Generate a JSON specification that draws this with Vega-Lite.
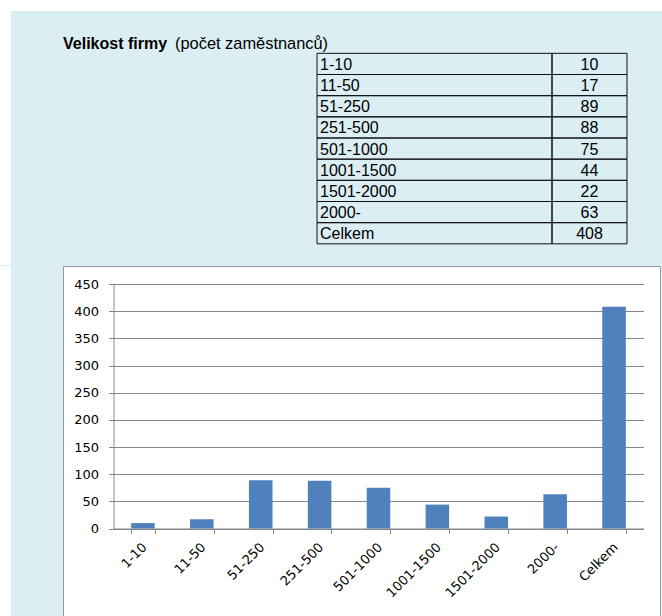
{
  "$schema": "https://vega.github.io/schema/vega-lite/v6.json",
  "background": "#DAEEF3",
  "padding": 0,
  "spacing": 0,
  "bounds": "full",
  "config": {"view": {"stroke": null}},
  "datasets": {
    "firmy": [
      {"velikost": "1-10", "pocet": 10},
      {"velikost": "11-50", "pocet": 17},
      {"velikost": "51-250", "pocet": 89},
      {"velikost": "251-500", "pocet": 88},
      {"velikost": "501-1000", "pocet": 75},
      {"velikost": "1001-1500", "pocet": 44},
      {"velikost": "1501-2000", "pocet": 22},
      {"velikost": "2000-", "pocet": 63},
      {"velikost": "Celkem", "pocet": 408}
    ],
    "nadpis1": [{"t": "Velikost firmy"}],
    "nadpis2": [{"t": "(počet zaměstnanců)"}]
  },
  "vconcat": [
    {
      "width": 662, "height": 11,
      "data": {"values": []},
      "mark": "rect",
      "encoding": {},
      "view": {"fill": "white", "stroke": null}
    },
    {
      "spacing": 52,
      "bounds": "flush",
      "hconcat": [
        {
          "width": 11, "height": 254,
          "data": {"values": []},
          "mark": "rect",
          "encoding": {},
          "view": {"fill": "white", "stroke": null}
        },
        {
          "spacing": 0,
          "bounds": "flush",
          "hconcat": [
            {
              "width": 254, "height": 254,
              "layer": [
                {
                  "data": {"name": "nadpis1"},
                  "mark": {"type": "text", "align": "left", "baseline": "middle", "font": "Liberation Sans", "fontSize": 16, "fontWeight": "bold", "color": "#000", "dy": 1},
                  "encoding": {
                    "text": {"field": "t"},
                    "x": {"datum": "t", "type": "nominal", "bandPosition": 0, "scale": {"type": "band", "domain": ["t"], "paddingInner": 0, "paddingOuter": 0}, "axis": null},
                    "y": {"datum": "nadpis", "type": "ordinal", "scale": {"type": "band", "domain": ["_h", "nadpis", "1-10", "11-50", "51-250", "251-500", "501-1000", "1001-1500", "1501-2000", "2000-", "Celkem", "_d"], "paddingInner": 0, "paddingOuter": 0}, "axis": null}
                  }
                },
                {
                  "data": {"name": "nadpis2"},
                  "mark": {"type": "text", "align": "left", "baseline": "middle", "font": "Liberation Sans", "fontSize": 16.4, "fontWeight": "normal", "color": "#000", "dy": 1, "dx": 112},
                  "encoding": {
                    "text": {"field": "t"},
                    "x": {"datum": "t", "type": "nominal", "bandPosition": 0, "scale": {"type": "band", "domain": ["t"], "paddingInner": 0, "paddingOuter": 0}, "axis": null},
                    "y": {"datum": "nadpis", "type": "ordinal", "scale": {"type": "band", "domain": ["_h", "nadpis", "1-10", "11-50", "51-250", "251-500", "501-1000", "1001-1500", "1501-2000", "2000-", "Celkem", "_d"], "paddingInner": 0, "paddingOuter": 0}, "axis": null}
                  }
                }
              ]
            },
            {
              "width": 235, "height": 254,
              "data": {"name": "firmy"},
              "encoding": {
                "x": {"datum": "c", "type": "nominal", "bandPosition": 0, "scale": {"type": "band", "domain": ["c"], "paddingInner": 0, "paddingOuter": 0}, "axis": null},
                "y": {"field": "velikost", "type": "ordinal", "scale": {"type": "band", "domain": ["_h", "nadpis", "1-10", "11-50", "51-250", "251-500", "501-1000", "1001-1500", "1501-2000", "2000-", "Celkem", "_d"], "paddingInner": 0, "paddingOuter": 0}, "axis": null}
              },
              "layer": [
                {"mark": {"type": "rect", "fill": "transparent", "stroke": "#111", "strokeWidth": 1}},
                {
                  "mark": {"type": "text", "align": "left", "baseline": "middle", "font": "Liberation Sans", "fontSize": 16, "color": "#000", "dx": 3, "dy": 1},
                  "encoding": {"text": {"field": "velikost"}}
                }
              ]
            },
            {
              "width": 75, "height": 254,
              "data": {"name": "firmy"},
              "encoding": {
                "y": {"field": "velikost", "type": "ordinal", "scale": {"type": "band", "domain": ["_h", "nadpis", "1-10", "11-50", "51-250", "251-500", "501-1000", "1001-1500", "1501-2000", "2000-", "Celkem", "_d"], "paddingInner": 0, "paddingOuter": 0}, "axis": null}
              },
              "layer": [
                {
                  "mark": {"type": "rect", "fill": "transparent", "stroke": "#111", "strokeWidth": 1},
                  "encoding": {"x": {"datum": "c", "type": "nominal", "scale": {"type": "band", "domain": ["c"], "paddingInner": 0, "paddingOuter": 0}, "axis": null}}
                },
                {
                  "mark": {"type": "text", "align": "center", "baseline": "middle", "font": "Liberation Sans", "fontSize": 16, "color": "#000", "dy": 1},
                  "encoding": {
                    "x": {"datum": "c", "type": "nominal", "bandPosition": 0.5, "scale": {"type": "band", "domain": ["c"], "paddingInner": 0, "paddingOuter": 0}, "axis": null},
                    "text": {"field": "pocet", "type": "quantitative"}
                  }
                }
              ]
            }
          ]
        }
      ]
    },
    {
      "spacing": 52,
      "bounds": "flush",
      "hconcat": [
        {
          "width": 11, "height": 360,
          "data": {"values": []},
          "mark": "rect",
          "encoding": {},
          "view": {"fill": "white", "stroke": null}
        },
        {
          "width": 597, "height": 360,
          "view": {"fill": "white", "stroke": "#9a9a9a", "strokeWidth": 1},
          "data": {"name": "firmy"},
          "mark": {"type": "bar", "color": "#4F81BD"},
          "encoding": {
            "x": {
              "field": "velikost", "type": "nominal", "sort": null,
              "scale": {"range": [50.5, 580.5], "paddingInner": 0.6, "paddingOuter": 0.3},
              "axis": {"title": null, "orient": "bottom", "offset": -97.5, "labelAngle": -45, "tickBand": "extent", "tickSize": 5, "tickColor": "#868686", "domainColor": "#868686", "labelFont": "DejaVu Sans", "labelFontSize": 13, "labelColor": "#000", "labelPadding": 7, "labelOffset": -3, "labelOverlap": false, "grid": false}
            },
            "y": {
              "field": "pocet", "type": "quantitative",
              "scale": {"domain": [0, 450], "range": [262.5, 18], "nice": false},
              "axis": {"title": null, "values": [0, 50, 100, 150, 200, 250, 300, 350, 400, 450], "offset": -50.5, "grid": true, "gridColor": "#868686", "tickSize": 5, "tickColor": "#868686", "domainColor": "#868686", "labelFont": "DejaVu Sans", "labelFontSize": 13, "labelColor": "#000", "labelPadding": 10}
            }
          }
        }
      ]
    }
  ]
}
